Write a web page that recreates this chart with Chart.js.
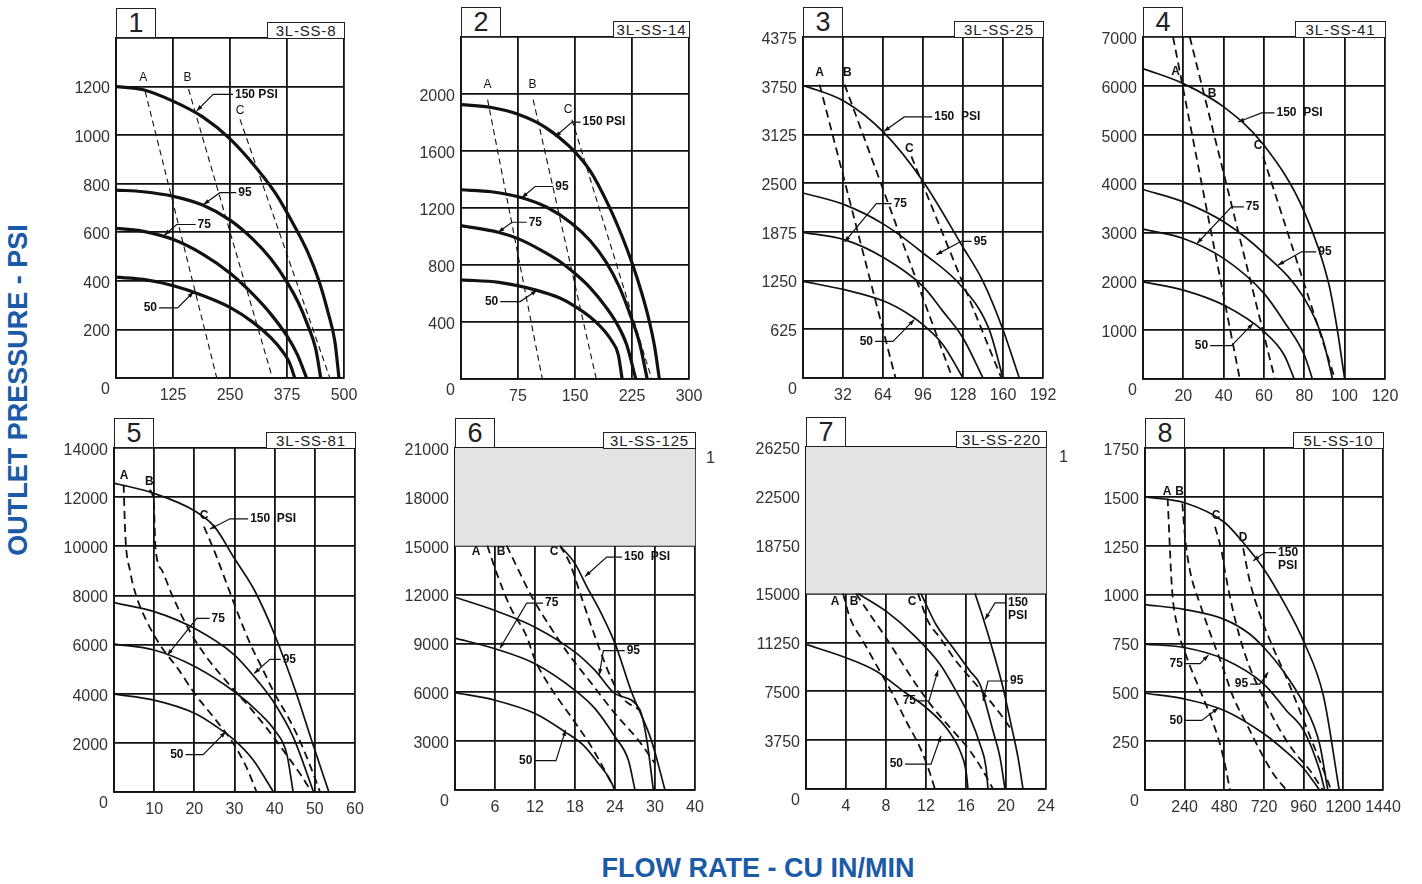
<!DOCTYPE html>
<html>
<head>
<meta charset="utf-8">
<title>Pump performance curves</title>
<script src="https://cdn.jsdelivr.net/npm/chart.js@4.4.1/dist/chart.umd.min.js"></script>
<style>
    body { margin: 0; width: 1422px; height: 884px; background: #fff; position: relative; overflow: hidden;
           font-family: 'Liberation Sans', Arial, sans-serif; }
    canvas { position: absolute; }
    .num { position: absolute; box-sizing: border-box; border: 1.5px solid #222; background: #fff;
           width: 40px; height: 30px; line-height: 28px; text-align: center; font-size: 27px; color: #222; }
    .model { position: absolute; box-sizing: border-box; border: 1.5px solid #222; background: #fff;
             height: 17px; line-height: 15px; text-align: center; font-size: 15px; letter-spacing: 0.8px; color: #222; }
    .mark { position: absolute; font-size: 16px; color: #333; }
    .title { position: absolute; color: #1b5aa6; font-weight: bold; font-size: 27px; text-align: center;
             height: 30px; line-height: 30px; white-space: nowrap; }
</style>
</head>
<body>
<div class="title" style="left:458px; top:853px; width:600px;">FLOW RATE - CU IN/MIN</div>
<div class="title" style="left:-182px; top:375px; width:400px; transform: rotate(-90deg);">OUTLET PRESSURE - PSI</div>
<div class="mark" style="left:706px; top:449px;">1</div>
<div class="mark" style="left:1059px; top:448px;">1</div>
<script>
// Modèles et graduations
const modelNames = ['3L-SS-8', '3L-SS-14', '3L-SS-25', '3L-SS-41', '3L-SS-81', '3L-SS-125', '3L-SS-220', '5L-SS-10'];
const xSteps = [125, 75, 32, 20, 10, 6, 4, 240];
const ySteps = [200, 400, 625, 1000, 2000, 3000, 3750, 250];
const shadeFrom = [null, null, null, null, null, 15000, 15000, null];

const p1XLabels = ['', '125', '250', '375', '500'];
const p1YLabels = ['', '200', '400', '600', '800', '1000', '1200', ''];
const p2XLabels = ['', '75', '150', '225', '300'];
const p2YLabels = ['', '400', '800', '1200', '1600', '2000', ''];
const p3XLabels = ['', '32', '64', '96', '128', '160', '192'];
const p3YLabels = ['', '625', '1250', '1875', '2500', '3125', '3750', '4375'];
const p4XLabels = ['', '20', '40', '60', '80', '100', '120'];
const p4YLabels = ['', '1000', '2000', '3000', '4000', '5000', '6000', '7000'];
const p5XLabels = ['', '10', '20', '30', '40', '50', '60'];
const p5YLabels = ['', '2000', '4000', '6000', '8000', '10000', '12000', '14000'];
const p6XLabels = ['', '6', '12', '18', '24', '30', '40'];
const p6YLabels = ['', '3000', '6000', '9000', '12000', '15000', '18000', '21000'];
const p7XLabels = ['', '4', '8', '12', '16', '20', '24'];
const p7YLabels = ['', '3750', '7500', '11250', '15000', '18750', '22500', '26250'];
const p8XLabels = ['', '240', '480', '720', '960', '1200', '1440'];
const p8YLabels = ['', '250', '500', '750', '1000', '1250', '1500', '1750'];

// Panneau 1 : 3L-SS-8
const p1Psi150 = [[0, 1200], [60, 1187], [125, 1140], [190, 1075], [250, 985], [310, 860], [350, 760], [390, 630], [420, 520], [445, 400], [465, 270], [480, 150], [489, 0]];
const p1Psi95 = [[0, 774], [60, 767], [126, 748], [190, 712], [250, 650], [300, 572], [340, 490], [376, 392], [400, 310], [420, 220], [438, 120], [449, 0]];
const p1Psi75 = [[0, 616], [60, 604], [126, 570], [190, 510], [251, 430], [300, 345], [340, 262], [376, 170], [398, 95], [418, 0]];
const p1Psi50 = [[0, 415], [60, 406], [126, 380], [190, 340], [251, 290], [300, 230], [340, 165], [365, 110], [380, 65], [392, 0]];
const p1LineA = [[64, 1180], [221, 0]];
const p1LineB = [[159, 1190], [343, 0]];
const p1LineC = [[272, 1065], [469, 0]];
const p1Letters = [['A', 60, 1235], ['B', 157, 1235], ['C', 272, 1102]];
const p1Leaders = [['150 PSI', 261, 1168, 213, 177, 1100, 'L'], ['95', 268, 763, 228, 192, 714, 'L'],
                   ['75', 179, 632, 133, 106, 588, 'L'], ['50', 90, 289, 135, 170, 354, 'R']];

// Panneau 2 : 3L-SS-14
const p2Psi150 = [[0, 1925], [40, 1905], [75, 1858], [110, 1770], [143, 1630], [170, 1460], [194, 1220], [212, 1000], [226, 800], [238, 600], [248, 400], [255, 220], [261, 0]];
const p2Psi95 = [[0, 1328], [40, 1314], [80, 1272], [113, 1205], [145, 1095], [170, 970], [191, 820], [208, 650], [222, 460], [235, 250], [245, 0]];
const p2Psi75 = [[0, 1077], [49, 1030], [75, 985], [105, 905], [130, 825], [150, 740], [170, 640], [190, 510], [205, 390], [218, 240], [230, 0]];
const p2Psi50 = [[0, 696], [50, 678], [100, 622], [130, 568], [150, 510], [170, 435], [185, 360], [198, 270], [207, 170], [212, 0]];
const p2LineA = [[35, 1960], [107, 0]];
const p2LineB = [[95, 1960], [178, 0]];
const p2LineC = [[146, 1820], [251, 0]];
const p2Letters = [['A', 35, 2066], ['B', 94, 2066], ['C', 141, 1890]];
const p2Leaders = [['150 PSI', 160, 1803, 146, 124, 1700, 'L'], ['95', 124, 1351, 97.5, 80, 1272, 'L'],
                   ['75', 89, 1100, 67, 49, 1030, 'L'], ['50', 49, 543, 78, 100, 622, 'R']];

// Panneau 3 : 3L-SS-25
const p3Psi150 = [[0, 3755], [33, 3550], [65, 3144], [96, 2523], [128, 1677], [144, 1240], [160, 620], [173, 0]];
const p3Psi95 = [[0, 2374], [33, 2224], [65, 1968], [96, 1604], [128, 1155], [149, 620], [160, 0]];
const p3Psi75 = [[0, 1869], [33, 1775], [65, 1540], [96, 1176], [112, 855], [128, 513], [144, 0]];
const p3Psi50 = [[0, 1240], [33, 1133], [65, 984], [83, 834], [96, 684], [112, 428], [128, 0]];
const p3LineA = [[13.3, 3764], [74, 0]];
const p3LineB = [[33.3, 3764], [119.5, 0]];
const p3LineC = [[86.7, 2844], [158.7, 0]];
const p3Letters = [['A', 13.3, 3914], ['B', 35.5, 3914], ['C', 85, 2943]];
const p3Leaders = [['150  PSI', 105, 3349, 81, 64.8, 3165, 'L'], ['75', 72.5, 2237, 58.7, 33.3, 1745, 'L'],
                   ['95', 136.5, 1754, 126.7, 106.7, 1583, 'L'], ['50', 56, 470, 72, 89, 748, 'R']];

// Panneau 4 : 3L-SS-41
const p4Psi150 = [[0, 6353], [20, 6046], [40, 5569], [60, 4785], [80, 3422], [92, 1970], [96, 1100], [100, 0]];
const p4Psi95 = [[0, 3879], [20, 3626], [40, 3217], [60, 2570], [80, 1650], [89, 832], [94, 0]];
const p4Psi75 = [[0, 3068], [20, 2877], [40, 2468], [60, 1752], [70, 1172], [80, 491], [84, 0]];
const p4Psi50 = [[0, 1990], [20, 1820], [40, 1513], [60, 968], [70, 491], [75, 0]];
const p4LineA = [[14.9, 7000], [48, 0]];
const p4LineB = [[23.2, 7000], [65.4, 0]];
const p4LineC = [[59.6, 4547], [95.2, 0]];
const p4Letters = [['A', 16.2, 6285], ['B', 34.3, 5842], ['C', 57.1, 4772]];
const p4Leaders = [['150  PSI', 66.2, 5447, 58.8, 47.2, 5260, 'L'], ['75', 51, 3524, 43.9, 26.8, 2774, 'L'],
                   ['95', 86.9, 2604, 78.6, 67, 2331, 'L'], ['50', 32.3, 682, 43.9, 54.6, 1138, 'R']];

// Panneau 5 : 3L-SS-81
const p5Psi150 = [[0, 12573], [10, 12150], [20, 11450], [25, 10800], [30, 9500], [35, 8200], [40, 6400], [45, 4200], [49.4, 2000], [53.5, 0]];
const p5Psi95 = [[0, 7707], [10, 7340], [20, 6660], [30, 5573], [36.3, 4418], [40, 3602], [44.6, 2243], [49.7, 0]];
const p5Psi75 = [[0, 6021], [10, 5777], [20.2, 5097], [30, 4078], [36.3, 3194], [40, 2515], [43, 1563], [44.6, 0]];
const p5Psi50 = [[0, 3983], [10, 3738], [20.2, 3194], [25.6, 2650], [30, 2107], [34.7, 1291], [39.7, 0]];
const p5LineA = [[2.4, 12500], [2.8, 10500], [4, 9000], [5.5, 8000], [8, 7000], [11.4, 6000], [16, 5000], [20.1, 4000], [25, 3000], [29.6, 2000], [33, 1000], [35.5, 0]];
const p5LineB = [[8.9, 12300], [9.9, 11800], [10.3, 10000], [12, 9000], [14.5, 8000], [19, 6500], [23, 5500], [28, 4500], [33.5, 3500], [38.5, 2500], [43, 1500], [46.5, 700], [49.2, 0]];
const p5LineC = [[22.4, 10800], [25, 9800], [28, 8500], [31, 7200], [34, 6000], [37, 5000], [40, 4000], [43.5, 3000], [46.5, 2000], [49, 1000], [51.3, 0]];
const p5Letters = [['A', 2.5, 12872], ['B', 8.8, 12614], ['C', 22.4, 11250]];
const p5Leaders = [['150  PSI', 33.9, 11119, 28.9, 23.9, 10700, 'L'], ['75', 24.3, 7068, 20.6, 13.3, 5573, 'L'],
                   ['95', 42, 5396, 38.8, 34.9, 4825, 'L'], ['50', 17.3, 1522, 22.2, 27.8, 2447, 'R']];

// Panneau 6 : 3L-SS-125
const p6Psi150 = [[15.75, 15000], [18, 13900], [19.75, 12500], [21.75, 11000], [24, 9000], [26.5, 6000], [29.5, 3000], [31.5, 0]];
const p6Psi95 = [[0, 11837], [6, 11020], [12, 10000], [18, 8469], [21, 7347], [24, 5918], [27.75, 4900], [28.8, 3000], [29.75, 0]];
const p6Psi75 = [[0, 9327], [6, 8673], [12, 7755], [18, 6122], [21, 5000], [24, 3265], [26, 1837], [27, 0]];
const p6Psi50 = [[0, 5980], [6, 5510], [12, 4694], [16.5, 3571], [19.5, 2653], [21.5, 1633], [23, 816], [24, 0]];
const p6LineA = [[4.85, 15000], [6.25, 13317], [8.25, 11268], [10.75, 9424], [12, 7990], [14.25, 6351], [17.75, 4302], [20.75, 2458], [24, 0]];
const p6LineB = [[7.75, 15000], [9.25, 13727], [11.5, 11883], [14.25, 10039], [17, 8367], [20.5, 6531], [24, 4694], [27.5, 3061], [30, 1633]];
const p6LineC = [[15.75, 15000], [17.25, 13900], [18.75, 12100], [20.5, 10000], [22, 8300], [23.5, 6800], [25, 5700], [27.75, 4900]];
const p6Letters = [['A', 3.15, 14649], ['B', 6.9, 14649], ['C', 14.85, 14649]];
const p6Leaders = [['150  PSI', 25.35, 14300, 22.75, 19.5, 13112, 'L'], ['75', 13.5, 11473, 10.75, 6.75, 8707, 'L'],
                   ['95', 25.75, 8564, 22.25, 21.65, 7068, 'L'], ['50', 11.6, 1803, 15.15, 16.6, 3688, 'R']];

// Panneau 7 : 3L-SS-220
const p7Psi150 = [[16.9, 15000], [17.7, 13138], [18.7, 10587], [19.7, 7781], [20.5, 4974], [21.2, 2423], [21.7, 0]];
const p7Psi95 = [[11.5, 15000], [13, 12628], [14.7, 10842], [16.4, 9056], [17.4, 8036], [17.9, 6760], [18.7, 4464], [19.4, 2423], [19.9, 0]];
const p7Psi75 = [[5.2, 15000], [8, 13648], [10.7, 11862], [13.4, 9566], [15, 7526], [16.4, 5485], [17.4, 3444], [18, 1658], [18.2, 0]];
const p7Psi50 = [[0, 11097], [4, 10077], [7, 9056], [9.7, 7526], [12, 6250], [14, 4719], [15.4, 2934], [16, 1403], [16.2, 0]];
const p7LineA = [[3.7, 15000], [4.4, 13138], [5.7, 11352], [7, 9566], [8.5, 7526], [10, 5230], [11.4, 3189], [12.2, 1658], [12.9, 0]];
const p7LineB = [[5, 15000], [6.4, 13393], [8, 11607], [9.7, 9566], [11, 8036], [12.7, 6250], [14.4, 4719], [16.4, 2934], [17.7, 1403], [18.7, 0]];
const p7LineC = [[11.2, 15000], [12.2, 12883], [13.4, 11607], [15, 9821], [16.7, 8291], [18.4, 6760], [19.7, 5485], [20.4, 4719]];
const p7Letters = [['A', 2.9, 14413], ['B', 4.8, 14413], ['C', 10.6, 14413]];
const p7Leaders = [['150\nPSI', 20.2, 14286, 18.9, 17.9, 13010, 'L'], ['95', 20.4, 8291, 18.2, 17.7, 6760, 'L'],
                   ['75', 11, 6760, 12.3, 13.2, 9107, 'R'], ['50', 9.7, 1913, 12.5, 13.5, 4082, 'R']];

// Panneau 8 : 5L-SS-10
const p8Psi150 = [[0, 1500], [240, 1470], [480, 1370], [600, 1260], [720, 1130], [840, 960], [960, 760], [1080, 480], [1175, 0]];
const p8Psi95 = [[0, 949], [237, 924], [480, 873], [635, 797], [719, 729], [835, 610], [960, 441], [1056, 237], [1106, 0]];
const p8Psi75 = [[0, 746], [237, 729], [480, 669], [719, 542], [855, 407], [960, 305], [1056, 102], [1087, 0]];
const p8Psi50 = [[0, 495], [237, 466], [480, 407], [719, 288], [855, 195], [960, 110], [1056, 0]];
const p8LineA = [[137, 1492], [163, 1034], [193, 847], [253, 678], [334, 508], [414, 339], [474, 169], [514, 0]];
const p8LineB = [[226, 1466], [243, 1288], [273, 1119], [334, 949], [404, 780], [464, 644], [534, 475], [614, 339], [695, 203], [775, 85], [855, 0]];
const p8LineC = [[424, 1347], [464, 1220], [484, 1119], [524, 949], [574, 780], [634, 627], [715, 475], [795, 339], [896, 203], [996, 102], [1076, 0]];
const p8LineD = [[594, 1237], [634, 1068], [695, 898], [775, 729], [855, 576], [936, 407], [1016, 237], [1096, 68], [1126, 0]];
const p8Letters = [['A', 133, 1525], ['B', 209, 1525], ['C', 430, 1403], ['D', 594, 1290]];
const p8Leaders = [['150\nPSI', 805, 1215, 725, 655, 1173, 'L'], ['75', 229, 647, 333, 384, 690, 'R'],
                   ['95', 624, 542, 695, 745, 602, 'R'], ['50', 229, 356, 343, 444, 420, 'R']];

// Emplacement des zones de tracé (gauche, haut, droite, bas) et largeur du cartouche
const panelBoxes = [
    [116, 38, 344, 378, 78], [461, 37, 689, 379, 77], [803, 37, 1043, 378, 90], [1143, 37, 1385, 379, 91],
    [114, 448, 355, 792, 90], [455, 448, 695, 790, 93], [806, 447, 1046, 789, 91], [1145, 448, 1383, 790, 91]
];

const panels = [
    { xLabels: p1XLabels, yLabels: p1YLabels, solid: [p1Psi150, p1Psi95, p1Psi75, p1Psi50], dashed: [p1LineA, p1LineB, p1LineC], letters: p1Letters, leaders: p1Leaders, heavy: true },
    { xLabels: p2XLabels, yLabels: p2YLabels, solid: [p2Psi150, p2Psi95, p2Psi75, p2Psi50], dashed: [p2LineA, p2LineB, p2LineC], letters: p2Letters, leaders: p2Leaders, heavy: true },
    { xLabels: p3XLabels, yLabels: p3YLabels, solid: [p3Psi150, p3Psi95, p3Psi75, p3Psi50], dashed: [p3LineA, p3LineB, p3LineC], letters: p3Letters, leaders: p3Leaders },
    { xLabels: p4XLabels, yLabels: p4YLabels, solid: [p4Psi150, p4Psi95, p4Psi75, p4Psi50], dashed: [p4LineA, p4LineB, p4LineC], letters: p4Letters, leaders: p4Leaders },
    { xLabels: p5XLabels, yLabels: p5YLabels, solid: [p5Psi150, p5Psi95, p5Psi75, p5Psi50], dashed: [p5LineA, p5LineB, p5LineC], letters: p5Letters, leaders: p5Leaders },
    { xLabels: p6XLabels, yLabels: p6YLabels, solid: [p6Psi150, p6Psi95, p6Psi75, p6Psi50], dashed: [p6LineA, p6LineB, p6LineC], letters: p6Letters, leaders: p6Leaders },
    { xLabels: p7XLabels, yLabels: p7YLabels, solid: [p7Psi150, p7Psi95, p7Psi75, p7Psi50], dashed: [p7LineA, p7LineB, p7LineC], letters: p7Letters, leaders: p7Leaders },
    { xLabels: p8XLabels, yLabels: p8YLabels, solid: [p8Psi150, p8Psi95, p8Psi75, p8Psi50], dashed: [p8LineA, p8LineB, p8LineC, p8LineD], letters: p8Letters, leaders: p8Leaders }
];

const INK = '#111';
const TICK_FONT = "'Liberation Sans', Arial, sans-serif";
const PAD_L = 60, PAD_T = 45, PAD_R = 35, PAD_B = 35;

/**
 * Étiquettes A/B/C, renvois vers les courbes et « 0 » dans le coin
 */
const notesPlugin = {
    id: 'notes',
    afterDatasetsDraw(chart, args, opts) {
        const { ctx, chartArea, scales: { x, y } } = chart;
        ctx.save();
        ctx.fillStyle = INK;
        ctx.strokeStyle = INK;
        ctx.lineWidth = 1.2;
        ctx.textBaseline = 'middle';

        ctx.font = opts.letterFont;
        ctx.textAlign = 'center';
        opts.letters.forEach(([t, vx, vy]) => {
            ctx.fillText(t, x.getPixelForValue(vx), y.getPixelForValue(vy));
        });

        ctx.font = 'bold 12px ' + TICK_FONT;
        opts.leaders.forEach(([text, tx, ty, ex, px, py, side]) => {
            const X = x.getPixelForValue(tx), Y = y.getPixelForValue(ty);
            const EX = x.getPixelForValue(ex);
            const PX = x.getPixelForValue(px), PY = y.getPixelForValue(py);
            ctx.textAlign = side === 'L' ? 'left' : 'right';
            text.split('\n').forEach((s, i) => ctx.fillText(s, X, Y + i * 13));
            const startX = side === 'L' ? X - 2 : X + 2;
            ctx.beginPath();
            ctx.moveTo(startX, Y);
            ctx.lineTo(EX, Y);
            ctx.lineTo(PX, PY);
            ctx.stroke();
            // petite flèche
            const ang = Math.atan2(PY - Y, PX - EX);
            ctx.beginPath();
            ctx.moveTo(PX, PY);
            ctx.lineTo(PX - 6 * Math.cos(ang) + 2.2 * Math.sin(ang), PY - 6 * Math.sin(ang) - 2.2 * Math.cos(ang));
            ctx.lineTo(PX - 6 * Math.cos(ang) - 2.2 * Math.sin(ang), PY - 6 * Math.sin(ang) + 2.2 * Math.cos(ang));
            ctx.closePath();
            ctx.fill();
        });

        ctx.font = '16px ' + TICK_FONT;
        ctx.fillStyle = '#333';
        ctx.textAlign = 'right';
        ctx.fillText('0', chartArea.left - 6, chartArea.bottom + 12);
        ctx.restore();
    }
};

function toPoints(pairs) {
    return pairs.map(([x, y]) => ({ x, y }));
}

function initPanel(p, i) {
    const [l, t, r, b, modelW] = panelBoxes[i];
    const xStep = xSteps[i], yStep = ySteps[i];
    const heavy = !!p.heavy;

    const canvas = document.createElement('canvas');
    canvas.width = r - l + PAD_L + PAD_R;
    canvas.height = b - t + PAD_T + PAD_B;
    canvas.style.left = (l - PAD_L) + 'px';
    canvas.style.top = (t - PAD_T) + 'px';
    document.body.appendChild(canvas);

    // Cartouches : numéro et modèle
    const num = document.createElement('div');
    num.className = 'num';
    num.textContent = String(i + 1);
    num.style.left = l + 'px';
    num.style.top = (t - 30) + 'px';
    document.body.appendChild(num);

    const model = document.createElement('div');
    model.className = 'model';
    model.textContent = modelNames[i];
    model.style.left = (r + 1 - modelW) + 'px';
    model.style.width = modelW + 'px';
    model.style.top = (t - 16) + 'px';
    document.body.appendChild(model);

    const datasets = [];
    p.solid.forEach(curve => datasets.push({
        data: toPoints(curve),
        borderColor: INK,
        borderWidth: heavy ? 3.2 : 1.7,
        cubicInterpolationMode: 'monotone',
        pointRadius: 0,
        fill: false
    }));
    p.dashed.forEach(curve => datasets.push({
        data: toPoints(curve),
        borderColor: INK,
        borderWidth: heavy ? 1.1 : 1.8,
        borderDash: heavy ? [6, 4] : [8, 5],
        cubicInterpolationMode: 'monotone',
        pointRadius: 0,
        fill: false
    }));

    const xMax = xStep * (p.xLabels.length - 1);
    const yMax = yStep * (p.yLabels.length - 1);
    const shaded = shadeFrom[i] !== null;
    if (shaded) {
        // zone grisée au-dessus de la limite
        datasets.push({
            data: toPoints([[0, shadeFrom[i]], [xMax, shadeFrom[i]]]),
            borderWidth: 0,
            borderColor: 'rgba(0,0,0,0)',
            backgroundColor: '#e3e3e3',
            pointRadius: 0,
            fill: 'end'
        });
    }

    const gridOpts = { color: INK, lineWidth: 1.8, drawTicks: false };
    const borderOpts = { color: INK, width: 1.8 };

    new Chart(canvas, {
        type: 'line',
        data: { datasets },
        plugins: [notesPlugin],
        options: {
            responsive: false,
            animation: false,
            layout: { padding: { left: 0, top: PAD_T, right: PAD_R, bottom: 0 } },
            plugins: {
                legend: { display: false },
                tooltip: { enabled: false },
                notes: {
                    letters: p.letters,
                    leaders: p.leaders,
                    letterFont: (heavy ? '' : 'bold ') + '12px ' + TICK_FONT
                }
            },
            scales: {
                x: {
                    type: 'linear',
                    min: 0,
                    max: xMax,
                    z: shaded ? 1 : 0,
                    grid: gridOpts,
                    border: borderOpts,
                    afterFit: scale => { scale.height = PAD_B; },
                    ticks: {
                        stepSize: xStep,
                        autoSkip: false,
                        maxRotation: 0,
                        padding: 8,
                        color: '#333',
                        font: { family: TICK_FONT, size: 16 },
                        callback: v => p.xLabels[Math.round(v / xStep)] ?? ''
                    }
                },
                y: {
                    type: 'linear',
                    min: 0,
                    max: yMax,
                    z: shaded ? 1 : 0,
                    grid: gridOpts,
                    border: borderOpts,
                    afterFit: scale => { scale.width = PAD_L; },
                    ticks: {
                        stepSize: yStep,
                        autoSkip: false,
                        padding: 6,
                        labelOffset: 2.5,
                        color: '#333',
                        font: { family: TICK_FONT, size: 16 },
                        callback: v => p.yLabels[Math.round(v / yStep)] ?? ''
                    }
                }
            }
        }
    });
}

// Initialisation au chargement
document.addEventListener('DOMContentLoaded', function() {
    panels.forEach(initPanel);
});
</script>
</body>
</html>
